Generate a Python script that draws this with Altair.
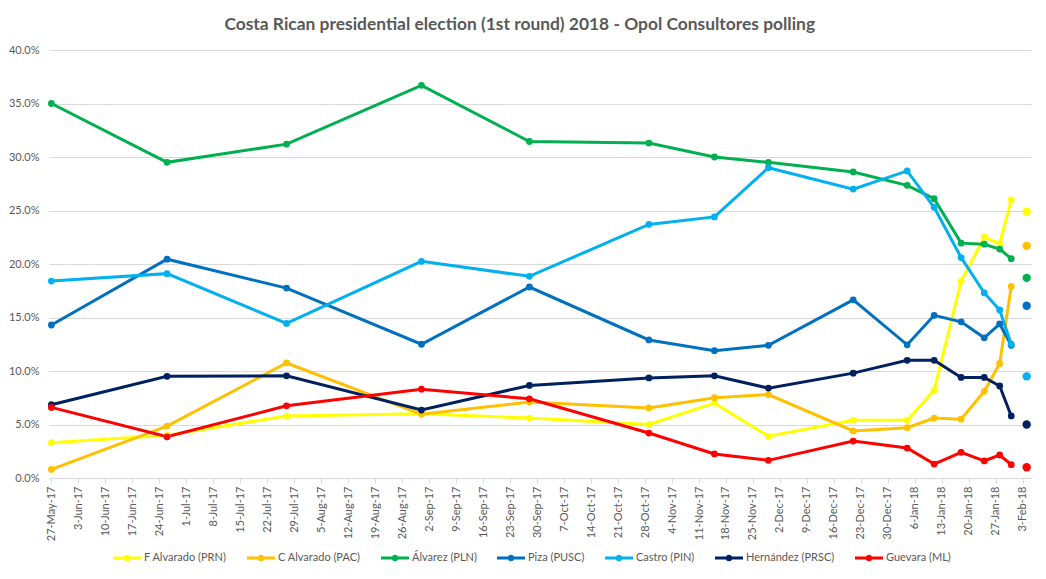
import altair as alt
import pandas as pd

# ---- data ----
poll_dates = ["2017-05-27", "2017-06-26", "2017-07-27", "2017-08-31", "2017-09-28",
              "2017-10-29", "2017-11-15", "2017-11-29", "2017-12-21", "2018-01-04",
              "2018-01-11", "2018-01-18", "2018-01-24", "2018-01-28", "2018-01-31"]
election_date = "2018-02-04"

candidates = ["F Alvarado (PRN)", "C Alvarado (PAC)", "Álvarez (PLN)", "Piza (PUSC)",
              "Castro (PIN)", "Hernández (PRSC)", "Guevara (ML)"]
colors = ["#FFFF00", "#FFC000", "#00B050", "#0070C0", "#00B0F0", "#002060", "#FF0000"]

f_alvarado = [3.3, 4.0, 5.8, 6.0, 5.6, 5.0, 7.0, 3.9, 5.4, 5.4, 8.2, 18.4, 22.5, 21.9, 26.0]
c_alvarado = [0.8, 4.85, 10.75, 5.95, 7.1, 6.55, 7.5, 7.8, 4.4, 4.7, 5.6, 5.5, 8.1, 10.7, 17.9]
alvarez    = [35.0, 29.5, 31.2, 36.7, 31.45, 31.3, 30.0, 29.5, 28.6, 27.35, 26.1, 21.95, 21.85, 21.4, 20.5]
piza       = [14.3, 20.45, 17.75, 12.5, 17.85, 12.9, 11.9, 12.4, 16.65, 12.45, 15.2, 14.6, 13.1, 14.4, 12.4]
castro     = [18.4, 19.1, 14.45, 20.25, 18.85, 23.7, 24.4, 29.0, 27.0, 28.7, 25.3, 20.6, 17.3, 15.7, 12.5]
hernandez  = [6.85, 9.5, 9.55, 6.35, 8.65, 9.35, 9.55, 8.4, 9.8, 11.0, 11.0, 9.4, 9.4, 8.6, 5.8]
guevara    = [6.6, 3.85, 6.75, 8.3, 7.4, 4.2, 2.25, 1.65, 3.45, 2.8, 1.3, 2.4, 1.6, 2.15, 1.25]
results    = [24.9, 21.7, 18.7, 16.1, 9.5, 5.0, 1.0]

tick_labels = ["2017-05-27", "2017-06-03", "2017-06-10", "2017-06-17", "2017-06-24",
               "2017-07-01", "2017-07-08", "2017-07-15", "2017-07-22", "2017-07-29",
               "2017-08-05", "2017-08-12", "2017-08-19", "2017-08-26", "2017-09-02",
               "2017-09-09", "2017-09-16", "2017-09-23", "2017-09-30", "2017-10-07",
               "2017-10-14", "2017-10-21", "2017-10-28", "2017-11-04", "2017-11-11",
               "2017-11-18", "2017-11-25", "2017-12-02", "2017-12-09", "2017-12-16",
               "2017-12-23", "2017-12-30", "2018-01-06", "2018-01-13", "2018-01-20",
               "2018-01-27", "2018-02-03"]
y_ticks = [0, 0.05, 0.10, 0.15, 0.20, 0.25, 0.30, 0.35, 0.40]

series = [f_alvarado, c_alvarado, alvarez, piza, castro, hernandez, guevara]

rows = []
for name, vals in zip(candidates, series):
    for d, v in zip(poll_dates, vals):
        rows.append({"date": d + "T00:00:00", "candidate": name, "value": v / 100})
polls = pd.DataFrame(rows)

elec = pd.DataFrame({"date": [election_date + "T00:00:00"] * len(candidates),
                     "candidate": candidates,
                     "value": [r / 100 for r in results]})


def dt(s, hours=0):
    t = pd.Timestamp(s)
    return alt.DateTime(year=t.year, month=t.month, date=t.day, hours=hours)


tick_values = [dt(s) for s in tick_labels]

FONT = "Lato"
GREY = "#595959"
GRID = "#D9D9D9"

x_enc = alt.X(
    "date:T",
    title=None,
    scale=alt.Scale(domain=[dt("2017-05-26", 9), dt("2018-02-05", 3)], nice=False),
    axis=alt.Axis(values=tick_values, format="%-d-%b-%y", labelAngle=270,
                  labelFontSize=11, labelColor=GREY, labelFont=FONT,
                  domainColor=GRID, tickColor=GRID, tickSize=5, labelPadding=3,
                  grid=False, labelOverlap=False),
)
y_enc = alt.Y(
    "value:Q",
    title=None,
    scale=alt.Scale(domain=[0, 0.4], nice=False),
    axis=alt.Axis(values=y_ticks, format=".1%", ticks=False, domain=False,
                  gridColor=GRID, labelFontSize=11, labelColor=GREY, labelFont=FONT,
                  labelPadding=10),
)
color_scale = alt.Scale(domain=candidates, range=colors)

symbol_path = ("M-1,-0.11L1,-0.11L1,0.11L-1,0.11Z"
               "M-0.24,0A0.24,0.24,0,1,1,0.24,0A0.24,0.24,0,1,1,-0.24,0Z")

legend = alt.Legend(title=None, orient="none", direction="horizontal",
                    legendX=64, legendY=494, symbolType=symbol_path, symbolSize=784,
                    symbolStrokeWidth=0, symbolOpacity=1, labelFont=FONT,
                    labelFontSize=11, labelColor=GREY, labelOffset=3, columnPadding=20)
color_enc = alt.Color("candidate:N", scale=color_scale, legend=legend)

lines = alt.Chart(polls).mark_line(strokeWidth=3).encode(
    x=x_enc, y=y_enc, color=color_enc,
)
points = alt.Chart(polls).mark_point(filled=True, size=46, opacity=1).encode(
    x=x_enc, y=y_enc, color=color_enc,
)
election = alt.Chart(elec).mark_circle(size=70, opacity=1).encode(
    x=x_enc, y=y_enc, color=color_enc,
)

chart = (
    alt.layer(lines, points, election)
    .properties(
        width=982, height=428,
        autosize=alt.AutoSizeParams(type="none"),
        padding={"left": 41, "top": 42, "right": 7, "bottom": 93},
        title=alt.TitleParams(
            "Costa Rican presidential election (1st round) 2018 - Opol Consultores polling",
            font=FONT, fontSize=17.4, fontWeight="bold", color=GREY,
            anchor="middle", frame="bounds", offset=11),
        background="white",
    )
    .configure_view(stroke=None)
)

chart.save("out.html", embed_options={"renderer": "svg", "actions": False})
